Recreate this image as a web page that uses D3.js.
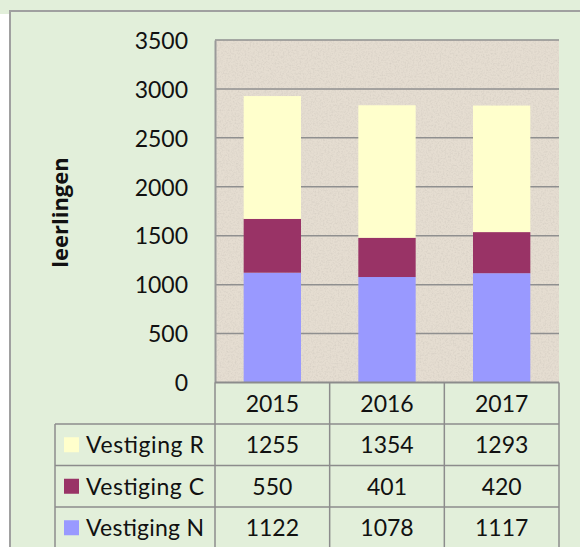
<!DOCTYPE html>
<html>
<head>
<meta charset="utf-8">
<script src="https://cdn.jsdelivr.net/npm/d3@7"></script>
<style>
  body { margin: 0; background: #fff; }
  svg text { font-family: "Lato", "Open Sans", sans-serif; fill: #111; }
</style>
</head>
<body>
<script>
// data
var years = ["2015", "2016", "2017"];
var seriesNames = ["Vestiging N", "Vestiging C", "Vestiging R"];
var vestigingN = [1122, 1078, 1117];
var vestigingC = [550, 401, 420];
var vestigingR = [1255, 1354, 1293];
var yTicks = [0, 500, 1000, 1500, 2000, 2500, 3000, 3500];
var colors = {"Vestiging N": "#9999ff", "Vestiging C": "#993366", "Vestiging R": "#ffffcc"};

var W = 580, H = 547;
var plot = {left: 215, right: 559, top: 40, bottom: 382.5};
var rowH = 41.5, tableLeft = 55;

var svg = d3.select("body").append("svg").attr("width", W).attr("height", H);

// noise texture for the plot area
var defs = svg.append("defs");
var f = defs.append("filter").attr("id", "noise").attr("x", 0).attr("y", 0).attr("width", "100%").attr("height", "100%");
f.append("feTurbulence").attr("type", "fractalNoise").attr("baseFrequency", 0.6).attr("numOctaves", 3).attr("seed", 4).attr("result", "n");
f.append("feColorMatrix").attr("in", "n").attr("type", "matrix")
  .attr("values", "0 0 0 0 0.45  0 0 0 0 0.42  0 0 0 0 0.38  0 0 0 -1.8 1.05");

// background + outer frame
svg.append("rect").attr("x", 0).attr("y", 0).attr("width", W).attr("height", 14).attr("fill", "#e2efda");
svg.append("rect").attr("x", 10).attr("y", 11).attr("width", W).attr("height", H)
  .attr("fill", "#e2efda").attr("stroke", "#a0a0a0").attr("stroke-width", 2);

var rows = years.map(function(y, i) {
  return {year: y, "Vestiging N": vestigingN[i], "Vestiging C": vestigingC[i], "Vestiging R": vestigingR[i]};
});

var x = d3.scaleBand().domain(years).range([plot.left, plot.right]).paddingInner(0.5).paddingOuter(0.25);
var xCol = d3.scaleBand().domain(years).range([plot.left, plot.right]);
var y = d3.scaleLinear().domain([0, 3500]).range([plot.bottom, plot.top]);

// plot area
svg.append("rect").attr("x", plot.left).attr("y", plot.top)
  .attr("width", plot.right - plot.left).attr("height", plot.bottom - plot.top).attr("fill", "#e5ddd1");
svg.append("rect").attr("x", plot.left).attr("y", plot.top)
  .attr("width", plot.right - plot.left).attr("height", plot.bottom - plot.top)
  .attr("filter", "url(#noise)").attr("opacity", 0.3);

// gridlines
svg.append("g").selectAll("line").data(yTicks.filter(function(d) { return d > 0; })).enter().append("line")
  .attr("x1", plot.left).attr("x2", plot.right)
  .attr("y1", function(d) { return y(d); }).attr("y2", function(d) { return y(d); })
  .attr("stroke", "#8f8f8f").attr("stroke-width", 1.5);

// y axis
var yAxis = svg.append("g").attr("transform", "translate(" + plot.left + ",0)")
  .call(d3.axisLeft(y).tickValues(yTicks).tickFormat(d3.format("d")).tickSize(0).tickPadding(27));
yAxis.select(".domain").attr("stroke", "#9a9a9a").attr("stroke-width", 2);
yAxis.selectAll("text").attr("font-size", 23).attr("font-family", "Lato").attr("fill", "#111").attr("dy", "0.36em");

svg.append("text").attr("transform", "translate(68,212.5) rotate(-90)")
  .attr("text-anchor", "middle").attr("font-size", 22).attr("font-weight", "bold")
  .style("font-family", "'Open Sans', sans-serif").text("leerlingen");

// stacked bars
var stack = d3.stack().keys(seriesNames)(rows);
svg.append("g").selectAll("g").data(stack).enter().append("g")
  .attr("fill", function(d) { return colors[d.key]; })
  .selectAll("rect").data(function(d) { return d; }).enter().append("rect")
  .attr("x", function(d) { return x(d.data.year); })
  .attr("width", x.bandwidth())
  .attr("y", function(d) { return y(d[1]); })
  .attr("height", function(d) { return y(d[0]) - y(d[1]); });

// data table
var tableRows = ["Vestiging R", "Vestiging C", "Vestiging N"];
var tbl = svg.append("g");
var lineColor = "#8c8c8c";
// header row: years
tbl.selectAll(".yr").data(years).enter().append("text")
  .attr("x", function(d) { return xCol(d) + xCol.bandwidth() / 2; })
  .attr("y", plot.bottom + rowH / 2).attr("dy", "0.36em")
  .attr("text-anchor", "middle").attr("font-size", 23).text(function(d) { return d; });

var tr = tbl.selectAll(".row").data(tableRows).enter().append("g")
  .attr("transform", function(d, i) { return "translate(0," + (plot.bottom + rowH * (i + 1)) + ")"; });
tr.append("rect").attr("x", 64).attr("y", rowH / 2 - 7.5).attr("width", 15).attr("height", 15)
  .attr("fill", function(d) { return colors[d]; });
tr.append("text").attr("x", 86).attr("y", rowH / 2).attr("dy", "0.36em")
  .attr("font-size", 23).attr("textLength", 118).text(function(d) { return d; });
tr.selectAll(".v").data(function(d) { return rows.map(function(r) { return {year: r.year, v: r[d]}; }); })
  .enter().append("text")
  .attr("x", function(d) { return xCol(d.year) + xCol.bandwidth() / 2; })
  .attr("y", rowH / 2).attr("dy", "0.36em").attr("text-anchor", "middle")
  .attr("font-size", 23).text(function(d) { return d.v; });

// table grid lines
var hl = [1, 2, 3].map(function(i) { return plot.bottom + rowH * i; });
tbl.selectAll(".hl").data(hl).enter().append("line")
  .attr("x1", tableLeft).attr("x2", plot.right).attr("y1", function(d) { return d; }).attr("y2", function(d) { return d; })
  .attr("stroke", lineColor).attr("stroke-width", 1.5);
tbl.append("line").attr("x1", plot.left).attr("x2", plot.right).attr("y1", plot.bottom).attr("y2", plot.bottom)
  .attr("stroke", lineColor).attr("stroke-width", 2);
var vl = years.map(function(d) { return xCol(d); }).concat([plot.right]);
tbl.selectAll(".vl").data(vl).enter().append("line")
  .attr("x1", function(d) { return d; }).attr("x2", function(d) { return d; })
  .attr("y1", plot.bottom).attr("y2", H)
  .attr("stroke", lineColor).attr("stroke-width", 1.5);
tbl.append("line").attr("x1", tableLeft).attr("x2", tableLeft).attr("y1", plot.bottom + rowH).attr("y2", H)
  .attr("stroke", lineColor).attr("stroke-width", 1.5);
</script>
</body>
</html>
